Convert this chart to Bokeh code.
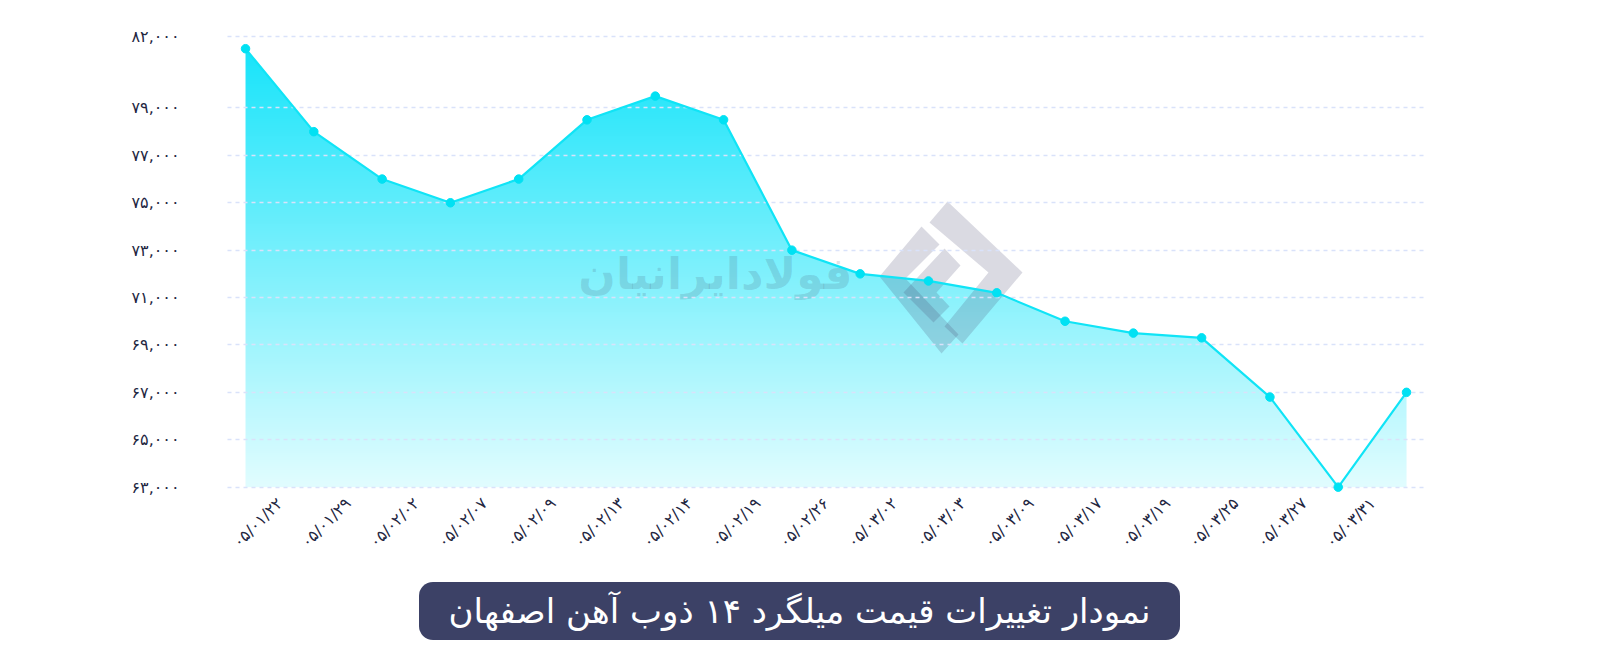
import numpy as np
from bokeh.plotting import figure
from bokeh.models import FixedTicker, Div, Range1d
from bokeh.layouts import column
from bokeh.core.properties import value
from bokeh.embed import file_html
from bokeh.resources import INLINE

# ---------------- data ----------------
dates = ["۰۵/۰۱/۲۲", "۰۵/۰۱/۲۹", "۰۵/۰۲/۰۲", "۰۵/۰۲/۰۷", "۰۵/۰۲/۰۹", "۰۵/۰۲/۱۳",
         "۰۵/۰۲/۱۴", "۰۵/۰۲/۱۹", "۰۵/۰۲/۲۶", "۰۵/۰۳/۰۲", "۰۵/۰۳/۰۳", "۰۵/۰۳/۰۹",
         "۰۵/۰۳/۱۷", "۰۵/۰۳/۱۹", "۰۵/۰۳/۲۵", "۰۵/۰۳/۲۷", "۰۵/۰۳/۳۱"]
prices = [81500, 78000, 76000, 75000, 76000, 78500, 79500, 78500, 73000,
          72000, 71700, 71200, 70000, 69500, 69300, 66800, 63000, 67000]
y_ticks = [63000, 65000, 67000, 69000, 71000, 73000, 75000, 77000, 79000, 82000]
y_tick_labels = ["۶۳,۰۰۰", "۶۵,۰۰۰", "۶۷,۰۰۰", "۶۹,۰۰۰", "۷۱,۰۰۰",
                 "۷۳,۰۰۰", "۷۵,۰۰۰", "۷۷,۰۰۰", "۷۹,۰۰۰", "۸۲,۰۰۰"]
title = "نمودار تغییرات قیمت میلگرد ۱۴ ذوب آهن اصفهان"
watermark = "فولادایرانیان"

# ---------------- figure ----------------
n = len(prices)
xs = list(range(n))
W, H = 1600, 570
BL, BR, BT, BB = 227, 175, 34, 81
FW, FH = W - BL - BR, H - BT - BB
x0, x1 = -0.264, (n - 1) + 0.278
y0, y1 = 62900, 82100

p = figure(width=W, height=H, x_range=Range1d(x0, x1), y_range=Range1d(y0, y1),
           output_backend="svg", toolbar_location=None,
           min_border_left=BL, min_border_right=BR, min_border_top=BT, min_border_bottom=BB)
p.outline_line_color = None
p.background_fill_color = "white"
p.border_fill_color = "white"

def px2x(px):
    return x0 + (px - BL) / FW * (x1 - x0)

def px2y(py):
    return y1 - (py - BT) / FH * (y1 - y0)

# gradient fill under the line
rows = 400
top_c = np.array([24, 228, 250])
bot_c = np.array([226, 253, 255])
t = np.linspace(0, 1, rows)[:, None]
cols = (bot_c * (1 - t) + top_c * t).astype(np.uint8)
img = np.zeros((rows, 1), dtype=np.uint32)
view = img.view(dtype=np.uint8).reshape((rows, 1, 4))
view[:, 0, 0] = cols[:, 0]
view[:, 0, 1] = cols[:, 1]
view[:, 0, 2] = cols[:, 2]
view[:, 0, 3] = 255
ymin, ymax = min(prices), max(prices)
p.image_rgba(image=[img], x=0, y=ymin, dw=n - 1, dh=ymax - ymin)
# white mask above the line (plus a seam cover at the right edge)
p.varea(x=xs, y1=prices, y2=y1, fill_color="white")
p.segment(x0=[xs[-1]], y0=[prices[-1]], x1=[xs[-1]], y1=[y1], line_color="white", line_width=3)

# watermark
p.text(x=[px2x(715)], y=[px2y(273)], text=[watermark], text_font=value("DejaVu Sans"),
       text_font_style="bold", text_font_size="44px", text_align="center",
       text_baseline="middle", text_color="#3c4664", text_alpha=0.16)
logo_l = [(921, 226), (939, 244), (905, 278), (958, 334), (941, 353), (879, 276)]
logo_r = [(947, 201), (1022, 272), (962, 343), (944, 326), (988, 272), (929, 222)]
logo_m = [(944, 248), (960, 265), (936, 292), (949, 306), (933, 322), (903, 292)]
p.patches(xs=[[px2x(a) for a, b in s] for s in (logo_l, logo_r, logo_m)],
          ys=[[px2y(b) for a, b in s] for s in (logo_l, logo_r, logo_m)],
          fill_color="#46466e", fill_alpha=0.2, line_color=None)

# line + points
p.line(xs, prices, line_color="#10e4f6", line_width=2.2, level="overlay")
p.scatter(xs, prices, size=8.5, fill_color="#00e1f3", line_color="#00e1f3", level="overlay")

# grid
p.xgrid.visible = False
p.ygrid.ticker = FixedTicker(ticks=y_ticks)
p.ygrid.grid_line_color = "#d9e2fa"
p.ygrid.grid_line_width = 1.5
p.ygrid.grid_line_dash = "4 4"
p.ygrid.level = "guide"

# axes
for ax in (p.xaxis, p.yaxis):
    ax.axis_line_color = None
    ax.major_tick_line_color = None
    ax.minor_tick_line_color = None
    ax.major_label_text_font = "DejaVu Sans"
    ax.major_label_text_color = "#23263f"

p.yaxis.ticker = FixedTicker(ticks=y_ticks)
p.yaxis.major_label_overrides = {v: s for v, s in zip(y_ticks, y_tick_labels)}
p.yaxis.major_label_text_font_size = "16px"
p.yaxis.major_label_standoff = 42

x_ticks = [i + 0.5 for i in range(len(dates))]
p.xaxis.ticker = FixedTicker(ticks=x_ticks)
p.xaxis.major_label_overrides = {v: s for v, s in zip(x_ticks, dates)}
p.xaxis.major_label_orientation = np.pi / 4
p.xaxis.major_label_text_font_size = "16px"
p.xaxis.major_label_standoff = 5

# title box
div = Div(text=(
    '<div style="box-sizing:border-box;margin:12px 0 0 419px;width:761px;height:58px;'
    'background:#3c4166;border-radius:14px;color:#ffffff;font-family:\'DejaVu Sans\';'
    'font-size:34px;display:flex;align-items:center;justify-content:center;direction:rtl;">'
    + title + '</div>'), width=W, height=658 - H, margin=0)

layout = column(p, div, spacing=0)
open("out.html", "w").write(file_html(layout, INLINE, title="chart"))
